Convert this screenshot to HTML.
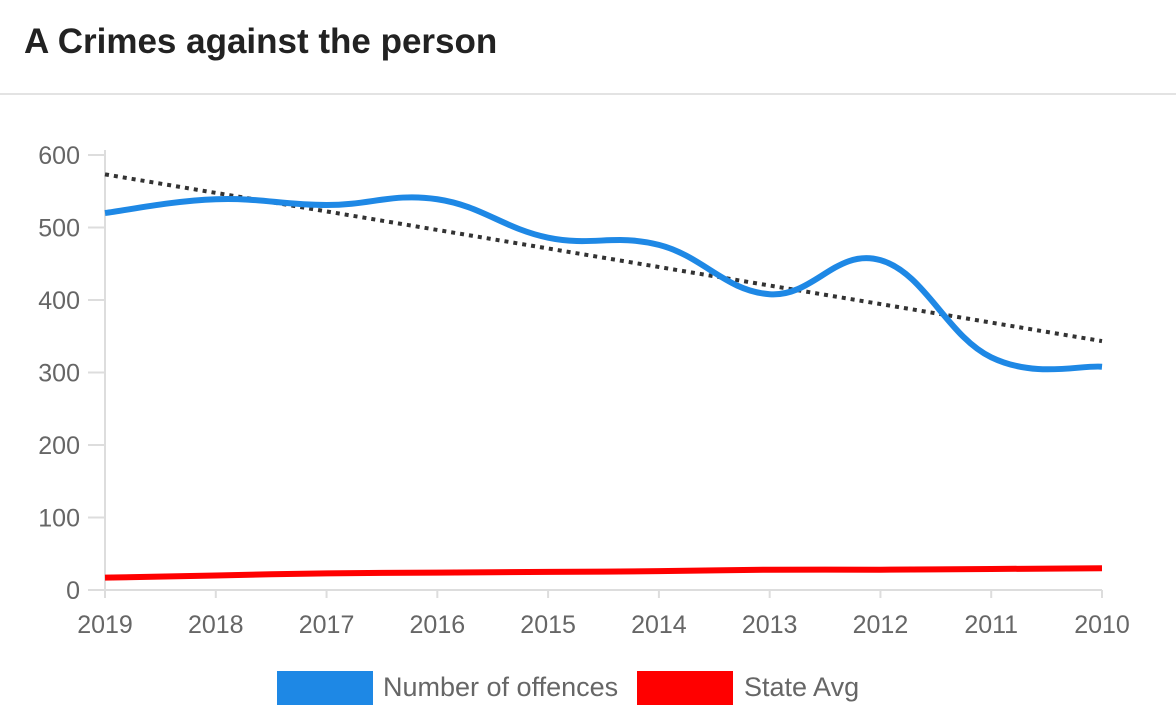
<!DOCTYPE html>
<html><head><meta charset="utf-8"><style>
body{margin:0;background:#fff;width:1176px;height:722px;overflow:hidden;font-family:"Liberation Sans",sans-serif}
#title{position:absolute;left:24px;top:22px;font-size:35px;font-weight:bold;color:#222}
#sep{position:absolute;left:0;top:93px;width:1176px;height:2px;background:#e3e3e3}
svg{position:absolute;left:0;top:0}
</style></head><body>
<div id="title">A Crimes against the person</div>
<div id="sep"></div>
<svg id="chart" width="1176" height="722"></svg>
<script>
const categories=["2019","2018","2017","2016","2015","2014","2013","2012","2011","2010"];
const offences=[520,539,531,539,486,476,408,455,321,308];
const stateAvg=[17,20,23,24,25,26,28,28,29,30];
const yTicks=[0,100,200,300,400,500,600];
const NS="http://www.w3.org/2000/svg";
const svg=document.getElementById('chart');
const x0=105,x1=1102,yBase=590,yTop=155;
const xs=i=>x0+(x1-x0)*i/(categories.length-1);
const ys=v=>yBase-(yBase-yTop)*v/600;
function mk(t,a,p){const e=document.createElementNS(NS,t);for(const k in a)e.setAttribute(k,a[k]);(p||svg).appendChild(e);return e;}
let ax=mk('line',{x1:x0,y1:yTop-5,x2:x0,y2:yBase+8,stroke:'#ddd','stroke-width':2});

let bx=mk('line',{x1:x0-17,y1:yBase,x2:x1,y2:yBase,stroke:'#ddd','stroke-width':2});

yTicks.forEach(v=>{
 mk('line',{x1:x0-17,y1:ys(v),x2:x0,y2:ys(v),stroke:'#ddd','stroke-width':2});
 const t=mk('text',{x:80,y:ys(v)+9,'text-anchor':'end','font-size':25,fill:'#666'});t.textContent=v;
 
});
categories.forEach((c,i)=>{
 mk('line',{x1:xs(i),y1:yBase,x2:xs(i),y2:yBase+8,stroke:'#ddd','stroke-width':2});
 const t=mk('text',{x:xs(i),y:633,'text-anchor':'middle','font-size':25,fill:'#666'});t.textContent=c;
 
});
function smooth(vals){
 const p=vals.map((v,i)=>[xs(i),ys(v)]);let d=`M${p[0][0]},${p[0][1]}`;const k=0.2;
 for(let i=0;i<p.length-1;i++){
  const a=p[i-1]||p[i],b=p[i],c=p[i+1],e=p[i+2]||c;
  d+=` C${b[0]+(c[0]-a[0])*k},${b[1]+(c[1]-a[1])*k} ${c[0]-(e[0]-b[0])*k},${c[1]-(e[1]-b[1])*k} ${c[0]},${c[1]}`;
 }return d;
}
const n=offences.length;let sx=0,sy=0,sxy=0,sxx=0;
offences.forEach((v,i)=>{sx+=i;sy+=v;sxy+=i*v;sxx+=i*i;});
const m=(n*sxy-sx*sy)/(n*sxx-sx*sx),b=(sy-m*sx)/n;
let tr=mk('line',{x1:xs(0),y1:ys(b),x2:xs(n-1),y2:ys(b+m*(n-1)),stroke:'#333','stroke-width':4,'stroke-dasharray':'4 5'});

let l1=mk('path',{d:smooth(offences),fill:'none',stroke:'#1e88e5','stroke-width':6});

let l2=mk('path',{d:smooth(stateAvg),fill:'none',stroke:'#ff0000','stroke-width':6});

[[277,'#1e88e5','Number of offences',383],[637,'#ff0000','State Avg',744]].forEach(([x,col,lab,tx])=>{
 const r=mk('rect',{x:x,y:671,width:96,height:34,fill:col});
 
 const t=mk('text',{x:tx,y:696,'font-size':27,fill:'#666'});t.textContent=lab;
 
});
</script>
</body></html>
